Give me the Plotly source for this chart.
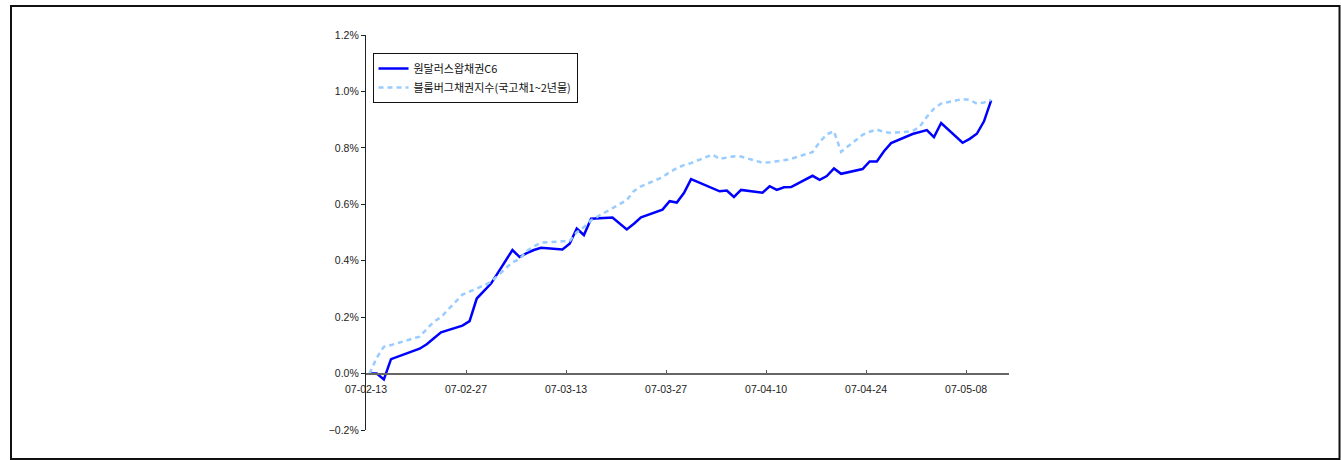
import pandas as pd
import plotly.graph_objects as go

# ---- data ----
dates = [
    "2007-02-13", "2007-02-14", "2007-02-15", "2007-02-16", "2007-02-20", "2007-02-21",
    "2007-02-22", "2007-02-23", "2007-02-26", "2007-02-27", "2007-02-28",
    "2007-03-02", "2007-03-05", "2007-03-06", "2007-03-07", "2007-03-08", "2007-03-09",
    "2007-03-12", "2007-03-13", "2007-03-14", "2007-03-15", "2007-03-16", "2007-03-19",
    "2007-03-20", "2007-03-21", "2007-03-22", "2007-03-23", "2007-03-26", "2007-03-27",
    "2007-03-28", "2007-03-29", "2007-03-30",
    "2007-04-02", "2007-04-03", "2007-04-04", "2007-04-05", "2007-04-06", "2007-04-09",
    "2007-04-10", "2007-04-11", "2007-04-12", "2007-04-13", "2007-04-16", "2007-04-17",
    "2007-04-18", "2007-04-19", "2007-04-20", "2007-04-23", "2007-04-24", "2007-04-25",
    "2007-04-26", "2007-04-27", "2007-04-30",
    "2007-05-01", "2007-05-02", "2007-05-03", "2007-05-04", "2007-05-07", "2007-05-08",
    "2007-05-09", "2007-05-10", "2007-05-11",
]

swap_c6 = [
    0.000, 0.000, -0.021, 0.051, 0.088, 0.104, 0.125, 0.146, 0.170, 0.186, 0.266,
    0.319, 0.438, 0.413, 0.427, 0.438, 0.446, 0.440, 0.460, 0.514, 0.491, 0.549,
    0.553, 0.531, 0.511, 0.531, 0.554, 0.581, 0.611, 0.606, 0.640, 0.689,
    0.656, 0.646, 0.649, 0.626, 0.651, 0.641, 0.664, 0.651, 0.660, 0.661, 0.701,
    0.687, 0.700, 0.727, 0.708, 0.725, 0.752, 0.752, 0.788, 0.817, 0.849,
    0.856, 0.863, 0.838, 0.888, 0.818, 0.832, 0.850, 0.894, 0.968,
]

bloomberg_1_2y = [
    0.000, 0.056, 0.095, 0.101, 0.131, 0.159, 0.184, 0.200, 0.280, 0.291, 0.301,
    0.325, 0.395, 0.405, 0.435, 0.451, 0.464, 0.469, 0.470, 0.501, 0.519, 0.543,
    0.586, 0.601, 0.615, 0.647, 0.664, 0.696, 0.714, 0.728, 0.739, 0.746,
    0.776, 0.761, 0.765, 0.770, 0.769, 0.747, 0.749, 0.752, 0.756, 0.761, 0.785,
    0.821, 0.848, 0.859, 0.786, 0.846, 0.857, 0.865, 0.856, 0.853, 0.859,
    0.875, 0.910, 0.939, 0.957, 0.973, 0.970, 0.957, 0.961, 0.970,
]

series_names = ["원달러스왑채권C6", "블룸버그채권지수(국고채1~2년물)"]
x_tick_labels = ["07-02-13", "07-02-27", "07-03-13", "07-03-27", "07-04-10", "07-04-24", "07-05-08"]
y_tick_values = [-0.2, 0.0, 0.2, 0.4, 0.6, 0.8, 1.0, 1.2]
y_tick_labels = [f"{v:.1f}%".replace("-", "\u2212") for v in y_tick_values]

# ---- layout geometry ----
W, H = 1341, 460
ML, MR, MT, MB = 366, 332, 35, 30
PW = W - ML - MR
PH = H - MT - MB

x_dates = pd.to_datetime(dates)
# Excel-like date axis: each date sits in the middle of its day bin
tick_pos = pd.to_datetime(x_tick_labels, format="%y-%m-%d") - pd.Timedelta(hours=12)
x_range = [pd.Timestamp("2007-02-12 12:00"), pd.Timestamp("2007-05-13 12:00")]
y_range = [y_tick_values[0], y_tick_values[-1]]

fig = go.Figure()
fig.add_trace(go.Scatter(
    x=x_dates, y=swap_c6, mode="lines", name=series_names[0],
    line=dict(color="#0000FF", width=2.5),
))
fig.add_trace(go.Scatter(
    x=x_dates, y=bloomberg_1_2y, mode="lines", name=series_names[1],
    line=dict(color="#99CCFF", width=2.5, dash="5px,4px"),
))

zero_frac = (0 - y_range[0]) / (y_range[1] - y_range[0])

fig.update_layout(
    width=W, height=H,
    margin=dict(l=ML, r=MR, t=MT, b=MB),
    paper_bgcolor="white", plot_bgcolor="white",
    font=dict(family="Liberation Sans, Arial, sans-serif", size=10, color="#222"),
    showlegend=True,
    legend=dict(
        x=(372.5 - ML) / PW, y=(H - MB - 53) / PH, xanchor="left", yanchor="top",
        bgcolor="white", bordercolor="#111", borderwidth=1,
        font=dict(family="Noto Sans CJK KR, sans-serif", size=11, color="#111"),
        itemwidth=30, tracegroupgap=2, entrywidth=205, entrywidthmode="pixels",
    ),
    xaxis=dict(
        type="date", range=x_range, anchor="free", position=zero_frac,
        tickmode="array", tickvals=tick_pos, ticktext=x_tick_labels,
        ticks="inside", ticklen=3, tickcolor="#555", tickwidth=1,
        showline=True, linecolor="#666", linewidth=2,
        showgrid=False, zeroline=False,
        tickfont=dict(size=10.5, color="#222"),
        ticklabelstandoff=6,
    ),
    yaxis=dict(
        range=y_range, tickmode="array", tickvals=y_tick_values, ticktext=y_tick_labels,
        ticks="outside", ticklen=4, tickcolor="#222", tickwidth=1,
        showline=True, linecolor="#222", linewidth=1.2,
        showgrid=False, zeroline=False,
        tickfont=dict(size=10.5, color="#222"),
    ),
)

# outer frame around the whole picture
def px_x(p):
    return (p - ML) / PW

def px_y(p):
    return (H - MB - p) / PH

fig.add_shape(type="rect", xref="paper", yref="paper",
              x0=px_x(11), x1=px_x(1339.5), y0=px_y(459), y1=px_y(6),
              line=dict(color="#111", width=2), fillcolor="rgba(0,0,0,0)", layer="above")

fig.write_html(
    "out.html",
    config={"displayModeBar": False},
    post_script="document.body.style.margin='0';document.body.style.overflow='hidden';",
)
